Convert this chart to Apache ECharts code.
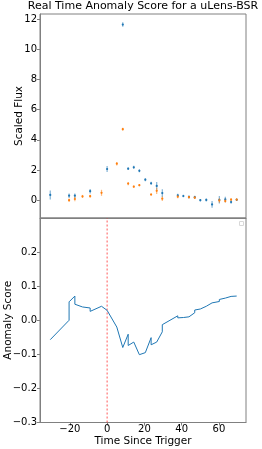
<!DOCTYPE html>
<html>
<head>
<meta charset="utf-8">
<script src="https://cdn.jsdelivr.net/npm/echarts@6/dist/echarts.min.js"></script>
<style>html,body{margin:0;padding:0;background:#fff}#c{width:262px;height:449px}</style>
</head>
<body>
<div id="c"></div>
<script>
const blueT    = [-30.5, -20.4, -17.3, -9.1, 0, 8.4, 11.3, 14.3, 17.3, 20.5, 23.6, 26.6, 29.6, 37.9, 40.9, 43.9, 47, 50, 53.2, 56.3, 60.2, 63.4, 66.5, 69.5];
const blueFlux = [0.35, 0.3, 0.3, 0.6, 2.07, 11.65, 2.09, 2.18, 1.95, 1.36, 1.12, 0.95, 0.47, 0.33, 0.28, 0.22, 0.2, 0.0, 0.02, -0.28, 0.03, 0.05, -0.12, 0.03];
const blueErr  = [0.3, 0.15, 0.15, 0.15, 0.2, 0.15, 0.08, 0.1, 0.1, 0.1, 0.1, 0.25, 0.25, 0.1, 0.08, 0.1, 0.1, 0.08, 0.1, 0.22, 0.25, 0.18, 0.12, 0.08];
const orangeT    = [-20.4, -17.3, -13.2, -9.1, -3, 5.2, 8.4, 11.3, 14.3, 17.3, 23.6, 26.6, 29.6, 37.9, 43.9, 47, 60.2, 63.4, 66.5, 69.5];
const orangeFlux = [0.0, 0.08, 0.25, 0.27, 0.49, 2.42, 4.71, 1.1, 0.9, 1.0, 0.38, 0.62, 0.1, 0.23, 0.2, 0.17, -0.02, -0.06, 0.04, 0.04];
const orangeErr  = [0.12, 0.15, 0.1, 0.1, 0.2, 0.12, 0.1, 0.1, 0.08, 0.08, 0.08, 0.2, 0.15, 0.1, 0.08, 0.08, 0.15, 0.1, 0.1, 0.08];
const scoreT = [-30.5, -20.4, -20.4, -17.3, -17.3, -13.2, -9.1, -9.1, -3, 0, 5.2, 8.4, 11.3, 11.3, 14.3, 17.3, 17.3, 20.5, 23.6, 23.6, 26.6, 29.6, 29.6, 37.9, 37.9, 40.9, 43.9, 47, 47, 50, 53.2, 56.3, 60.2, 60.2, 63.4, 66.5, 69.5];
const score  = [-0.057, 0.0, 0.054, 0.071, 0.047, 0.039, 0.036, 0.026, 0.041, 0.029, -0.02, -0.08, -0.041, -0.074, -0.064, -0.101, -0.096, -0.095, -0.051, -0.072, -0.064, -0.034, -0.013, 0.013, 0.007, 0.008, 0.01, 0.022, 0.03, 0.033, 0.041, 0.051, 0.055, 0.061, 0.065, 0.07, 0.071];
const triggerT = 0;
const fluxTicks = [0, 2, 4, 6, 8, 10, 12];
const scoreTicks = [-0.3, -0.2, -0.1, 0.0, 0.1, 0.2];
const timeTicks = [-20, 0, 20, 40, 60];

const FONT = 'DejaVu Sans';
const spine = '#808080';
function errData(t, f, e) { return t.map((x, i) => [x, f[i], e[i]]); }
function errSeries(name, color, data) {
  return {
    type: 'custom', name, xAxisIndex: 0, yAxisIndex: 0, data,
    renderItem: function (params, api) {
      const x = api.value(0), y = api.value(1), e = api.value(2);
      const p0 = api.coord([x, y - e]), p1 = api.coord([x, y + e]), pc = api.coord([x, y]);
      return { type: 'group', children: [
        { type: 'line', shape: { x1: p0[0], y1: p0[1], x2: p1[0], y2: p1[1] }, style: { stroke: color, lineWidth: 1.2, opacity: 0.55 } },
        { type: 'circle', shape: { cx: pc[0], cy: pc[1], r: 1.1 }, style: { fill: color } }
      ]};
    }
  };
}
const xBase = {
  type: 'value', min: -36, max: 74.5,
  axisLine: { show: true, onZero: false, lineStyle: { color: spine, width: 1 } },
  splitLine: { show: false }
};
const chart = echarts.init(document.getElementById('c'), null, { renderer: 'canvas' });
chart.setOption({
  animation: false,
  title: { text: 'Real Time Anomaly Score for a uLens-BSR', left: 143, top: 1, textAlign: 'center', padding: 0,
    textStyle: { fontFamily: FONT, fontSize: 11, fontWeight: 'normal', color: '#000' } },
  grid: [
    { left: 40, right: 16, top: 14, height: 204, show: true, borderColor: spine, borderWidth: 1, outerBoundsMode: 'none', containLabel: false },
    { left: 40, right: 16, top: 218, bottom: 26.5, show: true, borderColor: spine, borderWidth: 1, outerBoundsMode: 'none', containLabel: false }
  ],
  xAxis: [
    Object.assign({}, xBase, { gridIndex: 0, axisTick: { show: false }, axisLabel: { show: false } }),
    Object.assign({}, xBase, { gridIndex: 1,
      name: 'Time Since Trigger', nameLocation: 'middle', nameGap: 13, nameMoveOverlap: false,
      nameTextStyle: { fontFamily: FONT, fontSize: 10.5, color: '#000' },
      axisTick: { show: true, length: 3, lineStyle: { color: spine }, customValues: timeTicks },
      axisLabel: { show: true, fontFamily: FONT, fontSize: 10, color: '#000', margin: 2, customValues: timeTicks,
        formatter: v => String(v).replace('-', '\u2212') } })
  ],
  yAxis: [
    { type: 'value', gridIndex: 0, min: -1.18, max: 12.35,
      name: 'Scaled Flux', nameLocation: 'middle', nameGap: 15, nameMoveOverlap: false,
      nameTextStyle: { fontFamily: FONT, fontSize: 10.5, color: '#000' },
      axisLine: { show: true, onZero: false, lineStyle: { color: spine } }, splitLine: { show: false },
      axisTick: { show: true, length: 3, lineStyle: { color: spine }, customValues: fluxTicks },
      axisLabel: { fontFamily: FONT, fontSize: 10, color: '#000', margin: 3, customValues: fluxTicks } },
    { type: 'value', gridIndex: 1, min: -0.3, max: 0.3,
      name: 'Anomaly Score', nameLocation: 'middle', nameGap: 26, nameMoveOverlap: false,
      nameTextStyle: { fontFamily: FONT, fontSize: 10.5, color: '#000' },
      axisLine: { show: true, onZero: false, lineStyle: { color: spine } }, splitLine: { show: false },
      axisTick: { show: true, length: 3, lineStyle: { color: spine }, customValues: scoreTicks },
      axisLabel: { fontFamily: FONT, fontSize: 10, color: '#000', margin: 3, customValues: scoreTicks,
        formatter: v => v.toFixed(1).replace('-', '\u2212') } }
  ],
  series: [
    errSeries('blue', '#1f77b4', errData(blueT, blueFlux, blueErr)),
    errSeries('orange', '#ff7f0e', errData(orangeT, orangeFlux, orangeErr)),
    { type: 'line', xAxisIndex: 1, yAxisIndex: 1, data: [[triggerT, -0.3], [triggerT, 0.3]],
      showSymbol: false, lineStyle: { color: '#ff2020', type: [2, 2], width: 1, opacity: 0.75 }, z: 1 },
    { type: 'line', xAxisIndex: 1, yAxisIndex: 1, data: scoreT.map((t, i) => [t, score[i]]),
      showSymbol: false, lineStyle: { color: '#1f77b4', width: 1 }, itemStyle: { color: '#1f77b4' }, z: 2 }
  ],
  graphic: [
    { type: 'rect', shape: { x: 239.5, y: 221.5, width: 4, height: 4 }, style: { fill: '#fff', stroke: '#d8d8d8', lineWidth: 1 } }
  ]
});
</script>
</body>
</html>
